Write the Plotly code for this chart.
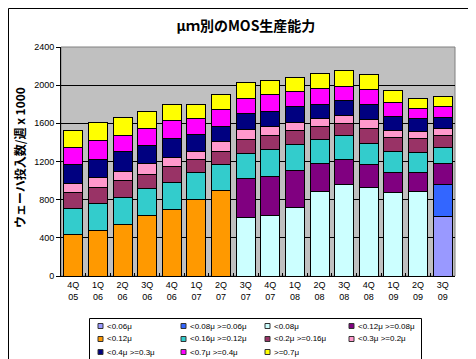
import plotly.graph_objects as go

quarters = ["4Q<br>05", "1Q<br>06", "2Q<br>06", "3Q<br>06", "4Q<br>06", "1Q<br>07", "2Q<br>07", "3Q<br>07",
            "4Q<br>07", "1Q<br>08", "2Q<br>08", "3Q<br>08", "4Q<br>08", "1Q<br>09", "2Q<br>09", "3Q<br>09"]

N = None
s_lt006 = [N, N, N, N, N, N, N, N, N, N, N, N, N, N, N, 625]
s_006_008 = [N, N, N, N, N, N, N, N, N, N, N, N, N, N, N, 329]
s_lt008 = [N, N, N, N, N, N, N, 618, 629, 723, 887, 964, 929, 880, 887, N]
s_008_012 = [N, N, N, N, N, N, N, 399, 409, 378, 294, 259, 235, 200, 193, 227]
s_lt012 = [430, 472, 545, 629, 692, 807, 891, N, N, N, N, N, N, N, N, N]
s_012_016 = [279, 293, 283, 283, 290, 273, 273, 272, 283, 272, 252, 252, 227, 230, 216, 171]
s_016_02 = [161, 164, 168, 147, 161, 146, 146, 144, 147, 147, 136, 125, 153, 137, 140, 116]
s_02_03 = [101, 105, 101, 122, 104, 81, 102, 104, 104, 94, 84, 84, 91, 73, 81, 83]
s_03_04 = [199, 192, 203, 182, 189, 171, 150, 161, 147, 158, 147, 151, 158, 147, 129, 105]
s_04_07 = [182, 196, 175, 188, 189, 168, 178, 164, 178, 157, 167, 153, 164, 154, 105, 123]
s_ge07 = [178, 192, 181, 168, 168, 147, 157, 161, 147, 147, 151, 161, 150, 118, 111, 98]

series_names = ["<0.06μ", "<0.08μ >=0.06μ", "<0.08μ", "<0.12μ >=0.08μ", "<0.12μ",
                "<0.16μ >=0.12μ", "<0.2μ >=0.16μ", "<0.3μ >=0.2μ", "<0.4μ >=0.3μ",
                "<0.7μ >=0.4μ", ">=0.7μ"]
series_values = [s_lt006, s_006_008, s_lt008, s_008_012, s_lt012, s_012_016,
                 s_016_02, s_02_03, s_03_04, s_04_07, s_ge07]
series_colors = ["#9999FF", "#3366FF", "#CCFFFF", "#800080", "#FF9900", "#33CCCC",
                 "#993366", "#FF99CC", "#000080", "#FF00FF", "#FFFF00"]

y_ticks = [0, 400, 800, 1200, 1600, 2000, 2400]

fig = go.Figure()
for name, vals, col in zip(series_names, series_values, series_colors):
    fig.add_trace(go.Bar(x=quarters, y=vals, name=name,
                         marker=dict(color=col, line=dict(color="black", width=1))))

W, H = 476, 359
L, R, T, B = 53, 29, 39, 91
pw, ph = W - L - R, H - T - B

def px2x(px):
    return (px - L) / pw

def py2y(py):
    return (H - B - py) / ph

shapes = [
    dict(type="rect", xref="paper", yref="paper", x0=px2x(53), x1=px2x(447), y0=py2y(268), y1=py2y(39),
         line=dict(color="#808080", width=1), fillcolor="rgba(0,0,0,0)", layer="below"),
    dict(type="rect", xref="paper", yref="paper", x0=px2x(0.5), x1=px2x(474), y0=py2y(357.5), y1=py2y(0.5),
         line=dict(color="black", width=1), fillcolor="rgba(0,0,0,0)"),
    dict(type="rect", xref="paper", yref="paper", x0=px2x(81.5), x1=px2x(413.5), y0=py2y(354.5), y1=py2y(310.5),
         line=dict(color="black", width=1), fillcolor="white"),
]
annotations = [dict(text="<b>ウェーハ投入数/週 x 1000</b>", xref="paper", yref="paper",
                    x=px2x(11), y=py2y(150), textangle=-90, showarrow=False,
                    xanchor="center", yanchor="middle",
                    font=dict(family="Noto Sans CJK JP", size=12, color="black"))]

col_x = [90, 173, 257, 341]
row_y = [318, 331, 344]
for i, (name, col) in enumerate(zip(series_names, series_colors)):
    cx = col_x[i % 4]
    cy = row_y[i // 4]
    shapes.append(dict(type="rect", xref="paper", yref="paper",
                       x0=px2x(cx), x1=px2x(cx + 5), y0=py2y(cy + 2.5), y1=py2y(cy - 2.5),
                       line=dict(color="#333333", width=1), fillcolor=col))
    annotations.append(dict(text=name.replace("<", "&lt;").replace(">", "&gt;"), xref="paper", yref="paper",
                            x=px2x(cx + 7), y=py2y(cy), xanchor="left", yanchor="middle",
                            showarrow=False,
                            font=dict(family="Liberation Sans, Arial, sans-serif", size=8, color="black")))

fig.update_layout(
    width=W, height=H,
    margin=dict(l=L, r=R, t=T, b=B),
    paper_bgcolor="white",
    plot_bgcolor="#C0C0C0",
    barmode="stack",
    bargap=0.23,
    showlegend=False,
    font=dict(family="Liberation Sans, Arial, sans-serif", size=9, color="black"),
    title=dict(text="<b>μｍ別のMOS生産能力</b>", x=0.5, xanchor="center",
               y=1 - 18 / H, yanchor="middle",
               font=dict(family="Noto Sans CJK JP", size=14, color="black")),
    xaxis=dict(type="category", showline=True, linecolor="black", linewidth=1,
               ticks="inside", ticklen=3, tickcolor="black", tickson="boundaries",
               tickfont=dict(size=9), showgrid=False),
    yaxis=dict(range=[0, 2400], tickvals=y_ticks, showline=True, linecolor="black",
               linewidth=1, ticks="outside", ticklen=4, tickcolor="black",
               showgrid=True, gridcolor="black", gridwidth=1, zeroline=False,
               tickfont=dict(size=9)),
    shapes=shapes,
    annotations=annotations,
)

fig.write_html("out.html")
